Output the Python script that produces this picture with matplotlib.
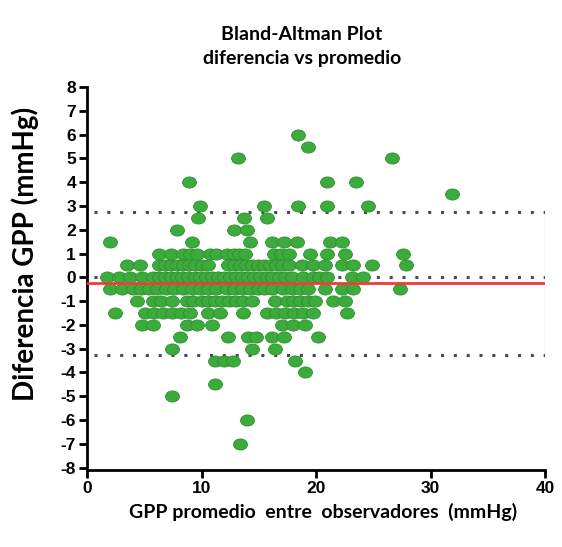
import matplotlib
matplotlib.use("Agg")
import matplotlib.pyplot as plt
import numpy as np
from matplotlib.path import Path
from matplotlib.transforms import Affine2D

plt.rcParams['font.family'] = ['Lato', 'DejaVu Sans']

# Differences (rows) and averages (x)
rows = {
    6.0: [18.4],
    5.5: [19.3],
    5.0: [13.2, 26.6],
    4.0: [8.9, 21.0, 23.5],
    3.5: [31.9],
    3.0: [9.9, 15.5, 18.4, 21.0, 24.5],
    2.5: [9.7, 13.7, 15.7],
    2.0: [7.9, 12.8, 14.0],
    1.5: [2.0, 9.2, 14.2, 16.2, 17.2, 18.3, 21.2, 22.3],
    1.0: [6.3, 7.3, 8.4, 9.0, 9.6, 10.7, 11.3, 12.2, 12.8, 13.3, 13.8, 16.3, 16.9,
          17.6, 19.5, 21.0, 22.5, 27.6],
    0.5: [3.5, 4.6, 6.3, 6.8, 7.3, 7.9, 8.4, 8.9, 9.4, 10.0, 10.6, 12.3, 12.8, 13.4,
          13.9, 14.4, 14.9, 15.5, 16.0, 16.5, 17.0, 17.6, 18.8, 19.7, 20.8, 22.3,
          23.2, 24.9, 27.9],
    0.0: [1.75, 2.8, 3.75, 4.8, 5.76, 6.3, 6.8, 7.3, 7.9, 8.3, 8.8, 9.4, 9.9, 10.4,
          10.9, 11.4, 12.0, 12.5, 13.0, 13.5, 14.1, 14.6, 15.1, 15.7, 16.2, 16.8,
          17.3, 17.9, 18.9, 19.7, 20.3, 21.0, 23.1, 24.1],
    -0.5: [2.0, 3.1, 4.0, 4.7, 5.4, 6.1, 6.9, 7.6, 8.4, 9.2, 9.9, 10.6, 11.3, 12.2,
           12.8, 13.5, 14.2, 14.9, 15.5, 16.2, 17.1, 17.9, 18.6, 19.3, 20.8, 22.3,
           23.2, 27.3],
    -1.0: [4.4, 5.8, 6.5, 7.4, 8.7, 9.3, 10.0, 10.6, 11.2, 11.8, 12.4, 13.0, 13.6,
           14.4, 16.4, 17.5, 18.0, 18.6, 19.3, 19.9, 21.5, 22.5],
    -1.5: [2.45, 5.1, 5.85, 6.6, 7.4, 8.2, 9.0, 10.6, 11.6, 13.6, 15.7, 16.5, 17.3,
           18.1, 18.9, 19.7, 22.7],
    -2.0: [4.8, 5.8, 8.7, 9.6, 10.9, 17.0, 18.0, 19.0],
    -2.5: [8.1, 12.3, 14.1, 14.8, 16.2, 17.2, 20.2],
    -3.0: [7.4, 14.4, 16.4],
    -3.5: [11.2, 12.0, 12.75, 18.2],
    -4.0: [19.0],
    -4.5: [11.2],
    -5.0: [7.4],
    -6.0: [14.0],
    -7.0: [13.4],
}
mean_diff = -0.25
upper_loa = 2.76
lower_loa = -3.26

x_ticks = [0, 10, 20, 30, 40]
y_ticks = list(range(-8, 9))

xs = np.concatenate([np.array(v, dtype=float) for v in rows.values()])
ys = np.concatenate([np.full(len(v), k) for k, v in rows.items()])

fig = plt.figure(figsize=(5.62, 5.47), dpi=100)
ax = fig.add_axes([0.1548, 0.1408, 0.815, 0.700])

ellipse = Path.unit_circle().transformed(Affine2D().scale(1.25, 1.0))
ax.scatter(xs, ys, marker=ellipse, s=100, facecolor='#3bab3b',
           edgecolor='#2f8f2f', linewidth=0.6, zorder=3)

dot_kw = dict(color='#4a4a5a', linestyle=(0, (1, 3.2)), linewidth=2.2, zorder=2)
ax.plot([0.6, 40], [upper_loa, upper_loa], **dot_kw)
ax.plot([0.6, 40], [0, 0], **dot_kw)
ax.plot([0.6, 40], [lower_loa, lower_loa], **dot_kw)
ax.plot([40, 40], [lower_loa, upper_loa], color='#d8d8d8', linewidth=1.0, zorder=1)
ax.plot([0, 40], [mean_diff, mean_diff], color='#f23a3a', linewidth=2.0, zorder=4)

ax.set_xlim(0, 40)
ax.set_ylim(-8.1, 8)
ax.set_xticks(x_ticks)
ax.set_yticks(y_ticks)
ax.set_yticklabels([str(t) for t in y_ticks])
for s in ['top', 'right']:
    ax.spines[s].set_visible(False)
for s in ['left', 'bottom']:
    ax.spines[s].set_linewidth(2.0)
ax.tick_params(axis='both', width=2.0, length=6, labelsize=12.5, pad=2)
for lab in ax.get_xticklabels() + ax.get_yticklabels():
    lab.set_fontweight('bold')
    lab.set_family(['Liberation Sans', 'DejaVu Sans'])

ax.set_ylabel('Diferencia GPP (mmHg)', fontsize=20, fontweight='bold')
ax.yaxis.set_label_coords(-0.105, 0.565)
ax.set_xlabel('GPP promedio  entre  observadores  (mmHg)', fontsize=14,
              fontweight='bold')
ax.xaxis.set_label_coords(0.515, -0.085)
fig.text(0.537, 0.915, 'Bland-Altman Plot\ndiferencia vs promedio', ha='center',
         va='center', fontsize=14, fontweight='bold', linespacing=1.45)

fig.savefig('out.png', dpi=100)
